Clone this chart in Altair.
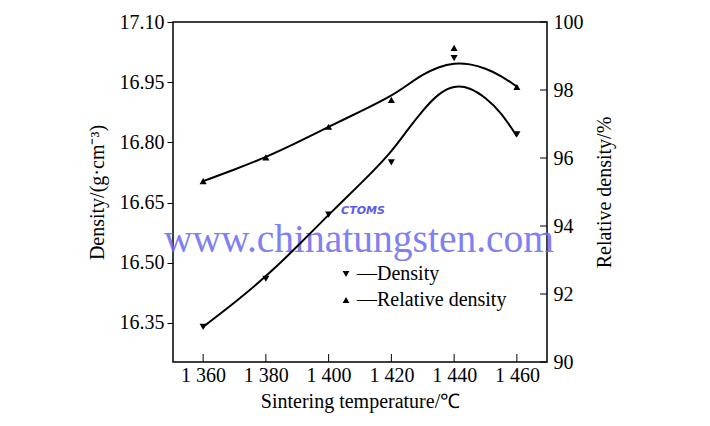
import altair as alt
import pandas as pd

# ---- data ----
temps = [1360, 1380, 1400, 1420, 1440, 1460]
density = [16.34, 16.46, 16.62, 16.75, 17.01, 16.82]
rel_density = [95.32, 96.02, 96.92, 97.71, 99.24, 98.09]

curve_temps = [1360, 1370, 1380, 1390, 1400, 1410, 1420, 1425, 1430, 1435, 1440, 1445, 1450, 1455, 1460]
density_fit = [16.34, 16.40, 16.465, 16.54, 16.62, 16.695, 16.775, 16.83, 16.88, 16.922, 16.942, 16.937, 16.912, 16.875, 16.815]
rel_fit = [95.32, 95.66, 96.02, 96.45, 96.92, 97.36, 97.82, 98.14, 98.46, 98.68, 98.80, 98.77, 98.64, 98.42, 98.10]

x_ticks = [1360, 1380, 1400, 1420, 1440, 1460]
left_ticks = [16.35, 16.50, 16.65, 16.80, 16.95, 17.10]
right_ticks = [90, 92, 94, 96, 98, 100]

series_names = ["Density", "Relative density"]

W, H = 374, 340
FONT = "Liberation Serif"

pts_d = pd.DataFrame({"temp": temps, "val": density, "series": series_names[0]})
pts_r = pd.DataFrame({"temp": temps, "val": rel_density, "series": series_names[1]})
fit_d = pd.DataFrame({"temp": curve_temps, "val": density_fit})
fit_r = pd.DataFrame({"temp": curve_temps, "val": rel_fit})
xt = pd.DataFrame({"temp": x_ticks})
rt = pd.DataFrame({"val": right_ticks})

x_axis = alt.Axis(values=x_ticks, ticks=False, domain=False, grid=False,
                  labelExpr="floor(datum.value/1000) + ' ' + (datum.value % 1000)",
                  labelFontSize=20, labelPadding=3, titleFontSize=20, titlePadding=6,
                  labelFlush=False)
x_enc = alt.X("temp:Q", scale=alt.Scale(domain=[1350.4, 1469.6], nice=False, zero=False),
              axis=x_axis, title="Sintering temperature/\u2103")

left_scale = alt.Scale(domain=[16.2525, 17.10], nice=False, zero=False)
left_axis = alt.Axis(values=left_ticks, format=".2f", tickSize=6, tickColor="black",
                     domain=False, grid=False, labelFontSize=20, labelPadding=3,
                     titleFontSize=20, titlePadding=12)
y_left = alt.Y("val:Q", scale=left_scale, axis=left_axis,
               title="Density/(g\u00b7cm\u207b\u00b3)")

right_scale = alt.Scale(domain=[90, 100], nice=False, zero=False)
right_axis = alt.Axis(orient="right", values=right_ticks, ticks=False, tickSize=0,
                      domain=False, grid=False, labelFontSize=20, labelPadding=6,
                      titleFontSize=20, titlePadding=31, titleAngle=270)
y_right = alt.Y("val:Q", scale=right_scale, axis=right_axis, title="Relative density/%")

shape_enc = alt.Shape(
    "series:N",
    scale=alt.Scale(domain=series_names, range=["triangle-down", "triangle-up"]),
    legend=alt.Legend(orient="none", legendX=163, legendY=242, title=None,
                      labelFont=FONT, labelFontSize=20, labelColor="black",
                      labelExpr="'\u2014' + datum.label", labelOffset=1,
                      symbolFillColor="black", symbolStrokeColor="black",
                      symbolStrokeWidth=0, symbolSize=45, rowPadding=6),
)

# watermark
watermark = alt.Chart(pd.DataFrame({"t": ["www.chinatungsten.com"]})).mark_text(
    font=FONT, fontSize=39.5, color="#6a6af0", opacity=0.85, align="center",
    baseline="alphabetic").encode(x=alt.value(186), y=alt.value(230), text="t:N")
logo = alt.Chart(pd.DataFrame({"t": ["CTOMS"]})).mark_text(
    font="DejaVu Sans", fontSize=11, fontWeight="bold", fontStyle="italic",
    color="#5a5af0", align="center", baseline="middle").encode(
    x=alt.value(190), y=alt.value(189), text="t:N")

x_tick_rules = alt.Chart(xt).mark_rule(color="black", strokeWidth=1).encode(
    x=x_enc, y=alt.value(H), y2=alt.value(H - 8))

line_d = alt.Chart(fit_d).mark_line(color="black", strokeWidth=2, interpolate="basis").encode(
    x=x_enc, y=y_left)
point_d = alt.Chart(pts_d).mark_point(filled=True, color="black", size=50, opacity=1).encode(
    x=x_enc, y=y_left, shape=shape_enc)

line_r = alt.Chart(fit_r).mark_line(color="black", strokeWidth=2, interpolate="basis").encode(
    x=x_enc, y=y_right)
point_r = alt.Chart(pts_r).mark_point(filled=True, color="black", size=50, opacity=1).encode(
    x=x_enc, y=y_right, shape=shape_enc)
right_tick_rules = alt.Chart(rt).mark_rule(color="black", strokeWidth=1).encode(
    y=y_right, x=alt.value(W - 7), x2=alt.value(W))

left_layer = alt.layer(watermark, logo, x_tick_rules, line_d, point_d)
right_layer = alt.layer(line_r, point_r, right_tick_rules)

chart = alt.layer(left_layer, right_layer).resolve_scale(y="independent").properties(
    width=W, height=H,
    autosize=alt.AutoSizeParams(type="none"),
    padding={"left": 165, "top": 14, "right": 155, "bottom": 56},
    background="white",
).configure_view(stroke="black", strokeWidth=1.5).configure_axis(
    labelFont=FONT, titleFont=FONT, labelColor="black", titleColor="black",
    titleFontWeight="normal",
)

chart.save("out.html", embed_options={"renderer": "svg", "actions": False})
